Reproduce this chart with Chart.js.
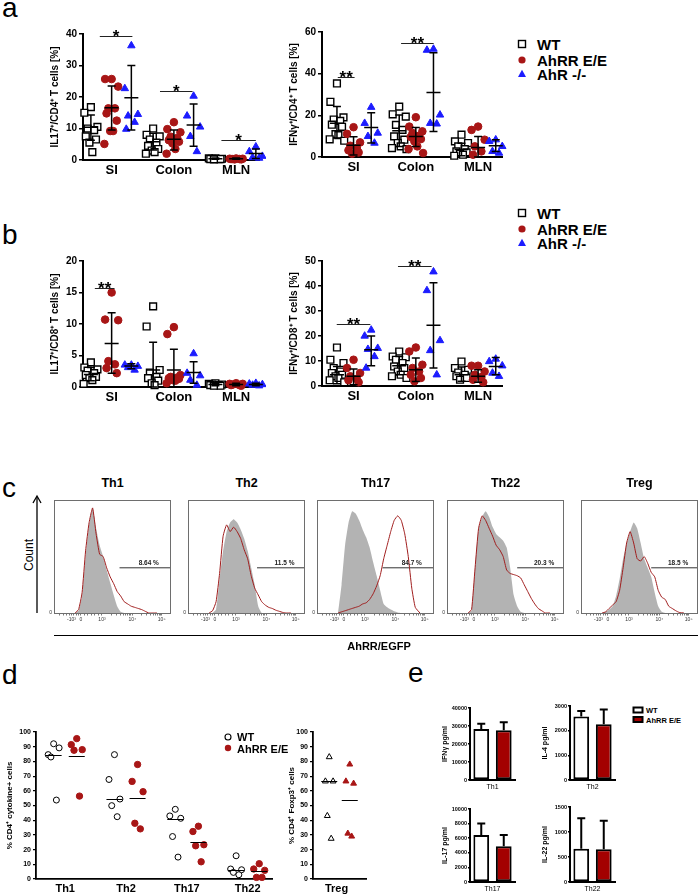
<!DOCTYPE html>
<html>
<head>
<meta charset="utf-8">
<script src="https://cdn.jsdelivr.net/npm/chart.js@4.4.0/dist/chart.umd.min.js"></script>
<style>
body { margin: 0; background: #fff; width: 700px; height: 896px; position: relative; overflow: hidden; font-family: "Liberation Sans", Arial, sans-serif; }
canvas { position: absolute; }
.t { position: absolute; white-space: nowrap; color: #000; line-height: 1; transform: translate(-50%, -50%); }
.l { transform: translate(0, -50%); }
.b { font-weight: bold; }
svg { position: absolute; overflow: visible; }
</style>
</head>
<body>
<script>
// ---- data ----
const organs = ['SI', 'Colon', 'MLN'];
const genotypes = ['WT', 'AhRR E/E', 'AhR -/-'];

// panel a, IL17+/CD4+  [SI, Colon, MLN]
const a1WT   = [[16.8, 15, 10.5, 10, 9.5, 7.5, 6.5, 5.5, 2.5], [10, 8, 7.5, 6.5, 5.5, 4.5, 3.5, 3, 2.5, 2], [0.5, 0.5, 0.4, 0.4, 0.3, 0.3, 0.3, 0.2]];
const a1AhRR = [[25.7, 25.7, 23.3, 16.4, 16.4, 14.8, 12.5, 9.2, 9.2, 5.1], [12, 9.8, 8.8, 7.4, 7, 6.3, 5.8, 5.3, 3.5, 2], [0.5, 0.4, 0.4, 0.3, 0.3, 0.3, 0.2, 0.2]];
const a1AhR  = [[36.3, 22.7, 14.5, 14, 12, 9.8], [20.3, 14, 10.5, 7.5, 2.7], [4.2, 2.7, 1.2, 0.8, 0.6]];
// [mean, low, high] per genotype per organ
const a1Err  = [[[10.4, 6.3, 14.3], [5.8, 3.2, 8.5], [0.4, 0.2, 0.6]], [[16.6, 9.5, 23.5], [6.6, 3.2, 9.5], [0.4, 0.2, 0.6]], [[19.8, 9.5, 30], [11.1, 4.4, 17.8], [2.1, 0.5, 3.5]]];
const a1Sig  = [[-0.57, 1.0, 39.4, '*'], [2.33, 3.9, 22, '*'], [5.29, 6.95, 6.3, '*']];

// panel a, IFNg+/CD4+
const a2WT   = [[35.3, 26.5, 19, 18, 17.3, 15.5, 14.5, 11, 10.5, 8.5, 7.8], [24.2, 20.5, 19.4, 15.4, 13, 9.9, 8.3, 6.7, 5.1, 4.3, 3.8], [10.7, 7.5, 6.7, 5.1, 3.8, 2.7, 2.2, 1.6, 1.1, 0.6]];
const a2AhRR = [[14.3, 11.1, 7, 5.4, 4.3, 3.2, 2.2, 1.6], [19.1, 14.6, 12.3, 11.5, 10.2, 9.6, 8.6, 7.5, 5.1, 3.8, 1.9], [14.6, 13, 8.3, 5.1, 2.7, 1.1]];
const a2AhR  = [[23.9, 16.2, 11.5, 9.9, 6.7], [51.8, 51.3, 20.2, 16.2, 15.9], [8.3, 7.5, 5.1, 2.7, 1.9]];
const a2Err  = [[[16.2, 9.1, 24.2], [12.6, 5.1, 20.2], [3.6, 0.6, 6.6]], [[5.6, 1, 9.7], [9.9, 5.1, 14.2], [4.6, 0, 9.9]], [[14.2, 6.7, 21.3], [31, 12.3, 50], [5.4, 2.7, 8.3]]];
const a2Sig  = [[-0.76, 0.05, 38.5, '**'], [2.29, 3.86, 54.5, '**']];

// panel b, IL17+/CD8+
const b1WT   = [[3.9, 3.1, 2.8, 2.6, 2.2, 1.9, 1.6, 1.4, 1.1, 0.5], [12.8, 9.6, 2.7, 2.3, 1.6, 1.4, 1, 0.6, 0.3], [0.6, 0.5, 0.4, 0.4, 0.3, 0.3, 0.2, 0.2]];
const b1AhRR = [[15, 10.7, 10.6, 4.1, 3.6, 3, 2.2], [9.5, 8.4, 1.9, 1.6, 1.5, 1.4, 1.3, 1.1, 1, 0.6], [0.6, 0.5, 0.5, 0.4, 0.3, 0.3, 0.2]];
const b1AhR  = [[3.5, 3.5, 3.3, 3.1, 2.7], [5.3, 2.2, 1.8, 1.1, 0.3], [0.6, 0.5, 0.4, 0.3, 0.2]];
const b1Err  = [[[2, 1, 3.1], [2.7, 0, 7.1], [0.4, 0.2, 0.6]], [[6.9, 2.2, 11.8], [2.7, 0, 6], [0.4, 0.2, 0.6]], [[3.35, 2.9, 3.7], [2.3, 0.6, 4], [0.4, 0.2, 0.6]]];
const b1Sig  = [[-0.81, 0.14, 15.7, '**']];

// panel b, IFNg+/CD8+
const b2WT   = [[15.4, 10.5, 9.2, 7.2, 5.8, 5.2, 4.5, 3.9, 3.2, 2.3, 1.5], [13.8, 11.8, 11.5, 10.5, 9.2, 7.8, 7.2, 5.8, 4.5, 3.9, 3.2], [9.8, 7.2, 6.5, 5.4, 4.5, 3.9, 3.2, 2.5]];
const b2AhRR = [[10.5, 7.2, 5.2, 3.9, 2.9, 2.3, 1.5], [15.4, 13.8, 8.5, 7.2, 5.8, 4.5, 3.2, 1.9], [8.1, 8.1, 5.8, 4.5, 3.6, 2.5, 1.5]];
const b2AhR  = [[22.4, 20, 15.1, 14.7, 11.8, 7.2], [45.7, 38.2, 18.2, 14.2, 4.5], [10.8, 9.8, 8.1, 5.2, 3.9]];
const b2Err  = [[[4.5, 0.9, 7.8], [8.1, 4.5, 11.8], [4.5, 1.9, 7.6]], [[3.9, 0.5, 6.8], [6.5, 1.8, 11.2], [3.9, 1.5, 6.5]], [[14.5, 8.1, 20], [24.3, 7.2, 41.3], [7.8, 4.5, 11.4]]];
const b2Sig  = [[-0.81, 0.81, 24.8, '**'], [2.14, 3.76, 48.1, '**']];

// panel c, histograms (x in % of axis width, y in % of box height)
const histNames = ['Th1', 'Th2', 'Th17', 'Th22', 'Treg'];
const hx = [18, 21, 24, 27, 30, 33, 36, 39, 42, 45, 48, 51, 54, 57, 60, 63, 66, 69, 72, 75, 78, 81, 84, 88];
const histGray = [
  [0, 2, 15, 50, 78, 93, 75, 60, 50, 38, 27, 16, 6, 1, 0, 0, 0, 0, 0, 0, 0, 0, 0, 0],
  [0, 0, 3, 30, 55, 72, 80, 83, 80, 74, 66, 55, 40, 25, 6, 0, 0, 0, 0, 0, 0, 0, 0, 0],
  [0, 25, 60, 80, 90, 88, 82, 74, 67, 58, 45, 33, 20, 8, 5, 3, 1.5, 0.5, 0, 0, 0, 0, 0, 0],
  [0, 2, 40, 75, 85, 90, 85, 76, 70, 67, 64, 58, 40, 16, 6, 1, 0, 0, 0, 0, 0, 0, 0, 0],
  [0, 1, 3, 6, 15, 30, 48, 62, 72, 80, 75, 62, 48, 40, 32, 18, 6, 1, 0, 0, 0, 0, 0, 0]
];
const histRed = [
  [0, 3, 18, 55, 80, 93, 70, 52, 50, 40, 32, 26, 19, 15, 10, 8, 6, 5, 4, 3, 1.5, 0, 0, 0],
  [0, 2, 10, 35, 68, 78, 72, 76, 72, 66, 56, 48, 33, 22, 16, 10, 7, 5, 4, 2.5, 1.5, 0.5, 0, 0],
  [0, 1, 2, 3, 4, 5, 6, 8, 9, 12, 17, 24, 33, 48, 60, 72, 82, 86, 82, 70, 50, 22, 5, 0],
  [0, 3, 40, 75, 86, 82, 75, 68, 60, 56, 50, 38, 35, 34, 33, 31, 25, 19, 13, 8, 4, 2, 0, 0],
  [0, 1, 4, 7, 10, 20, 40, 62, 72, 62, 48, 46, 50, 44, 36, 32, 20, 14, 12, 6, 4, 2, 0.5, 0]
];
const gateStart = [56, 59, 56, 60, 60];
const gateLevel = 40;
const gateText = ['8.64 %', '11.5 %', '84.7 %', '20.3 %', '18.5 %'];
const histTickPos = [15, 23, 41, 67, 92];
const histTickText = ['-10³', '0', '10³', '10⁴', '10⁵'];

// panel d
const cytos = ['Th1', 'Th2', 'Th17', 'Th22'];
const dWT    = [[92, 84.6, 89.2, 83, 53.7], [84.6, 67.7, 54.4, 49.9, 42.4], [47.4, 42.9, 41.3, 28.9, 14.9], [15.8, 6.8, 6.3, 4.5, 2.9]];
const dAhRR  = [[95.5, 91.4, 88, 87.6, 56.4], [77.9, 66.4, 59.4, 37.9, 34.1], [35.9, 32.3, 23.3, 22.6, 11.7], [10.4, 6.8, 5.9, 1.1, 1.1]];
const dWTline   = [84.6, 54.4, 40.9, 6.3];
const dAhRRline = [83.7, 54.9, 25.5, 5.2];
const tregWT    = [83, 66.5, 66.5, 43, 27.5];
const tregAhRR  = [78, 66.5, 65, 31, 29];
const tregLine  = [66.5, 54];

// panel e
const eCells  = ['Th1', 'Th2', 'Th17', 'Th22'];
const eTitles = ['IFNγ pg/ml', 'IL-4 pg/ml', 'IL-17 pg/ml', 'IL-22 pg/ml'];
const eWT     = [28400, 2570, 6450, 667];
const eAhRR   = [27700, 2260, 4910, 653];
const eWTerr  = [2800, 230, 1550, 606];
const eAhRRerr = [4400, 600, 1545, 574];
const eMax    = [40000, 3000, 10000, 1500];
const eStep   = [10000, 1000, 2000, 500];

// ---- helpers ----
const FONT = '"Liberation Sans", Arial, sans-serif';
const RED = '#a81616';
const BLUE = '#1c1cff';
const HRED = '#a01d1d';
const JIT = [0, -0.9, 0.9, -0.45, 0.45, -0.7, 0.7, -0.2, 0.2, -1, 1];

function place(plot, yW, xH, padT, padR) {
  const c = document.createElement('canvas');
  const w = plot.r - plot.l + yW + padR, h = plot.b - plot.t + padT + xH;
  c.width = w; c.height = h;
  c.style.left = (plot.l - yW) + 'px';
  c.style.top = (plot.t - padT) + 'px';
  c.style.width = w + 'px'; c.style.height = h + 'px';
  document.body.appendChild(c);
  return c;
}

function txt(s, x, y, size, cls, extra) {
  const d = document.createElement('div');
  d.className = 't ' + (cls || '');
  d.textContent = s;
  d.style.left = x + 'px'; d.style.top = y + 'px';
  d.style.fontSize = size + 'px';
  if (extra) Object.assign(d.style, extra);
  document.body.appendChild(d);
  return d;
}

function svg(x, y, w, h, inner) {
  const d = document.createElement('div');
  d.innerHTML = '<svg width="' + w + '" height="' + h + '" style="left:' + x + 'px;top:' + y + 'px">' + inner + '</svg>';
  document.body.appendChild(d);
}

const noLegend = {legend: {display: false}, tooltip: {enabled: false}};

// scatter panels a and b
function dotPanel(plot, xr, yMax, yStep, yTitle, sub, sets, errs, sigs) {
  const yW = 34, xH = 22, padT = 16, padR = 4;
  const cv = place(plot, yW, xH, padT, padR);
  const look = [
    {pointStyle: 'rect', pointRadius: 4.8, backgroundColor: '#fff', borderColor: '#000', borderWidth: 1.4},
    {pointStyle: 'circle', pointRadius: 3.8, backgroundColor: RED, borderColor: RED, borderWidth: 1},
    {pointStyle: 'triangle', pointRadius: 4.3, backgroundColor: BLUE, borderColor: BLUE, borderWidth: 1}
  ];
  const datasets = sets.map((cats, g) => Object.assign({
    label: genotypes[g], clip: false,
    data: cats.flatMap((vals, c) => vals.map((v, i) => ({x: c * 3 + sub[g] + JIT[i % JIT.length] * 0.35, y: v})))
  }, look[g])).reverse();

  const overlay = {
    id: 'overlay',
    afterDatasetsDraw(chart) {
      const {ctx, scales: {x, y}} = chart;
      ctx.save();
      ctx.strokeStyle = '#000';
      ctx.lineWidth = 1.5;
      errs.forEach((cats, g) => cats.forEach(([m, lo, hi], c) => {
        const cx = x.getPixelForValue(c * 3 + sub[g]);
        const ym = y.getPixelForValue(m), yl = y.getPixelForValue(lo), yh = y.getPixelForValue(hi);
        ctx.beginPath();
        ctx.moveTo(cx, yl); ctx.lineTo(cx, yh);
        ctx.moveTo(cx - 7, ym); ctx.lineTo(cx + 7, ym);
        ctx.moveTo(cx - 4, yl); ctx.lineTo(cx + 4, yl);
        ctx.moveTo(cx - 4, yh); ctx.lineTo(cx + 4, yh);
        ctx.stroke();
      }));
      ctx.lineWidth = 1;
      ctx.strokeStyle = '#222';
      ctx.fillStyle = '#000';
      ctx.font = 'bold 17px ' + FONT;
      ctx.textAlign = 'center';
      ctx.textBaseline = 'alphabetic';
      sigs.forEach(([x0, x1, v, label]) => {
        const py = Math.round(y.getPixelForValue(v)) + 0.5;
        const px0 = x.getPixelForValue(x0), px1 = x.getPixelForValue(x1);
        ctx.beginPath();
        ctx.moveTo(px0, py); ctx.lineTo(px1, py);
        ctx.stroke();
        ctx.fillText(label, (px0 + px1) / 2, py + 5);
      });
      ctx.restore();
    }
  };

  new Chart(cv, {
    type: 'scatter',
    data: {datasets},
    options: {
      responsive: false, animation: false,
      layout: {padding: {top: padT, right: padR, left: 0, bottom: 0}},
      plugins: noLegend,
      scales: {
        x: {
          type: 'linear', min: xr[0], max: xr[1],
          afterBuildTicks: s => { s.ticks = organs.map((_, i) => ({value: i * 3})); },
          afterFit: s => { s.height = xH; },
          ticks: {callback: (v, i) => organs[i], font: {size: 13, weight: 'bold', family: FONT}, color: '#000', padding: 3, maxRotation: 0, autoSkip: false},
          grid: {display: false, drawTicks: false},
          border: {display: true, color: '#000', width: 2}
        },
        y: {
          min: 0, max: yMax,
          afterFit: s => { s.width = yW; },
          ticks: {stepSize: yStep, font: {size: 10, weight: 'bold', family: FONT}, color: '#000', padding: 2},
          grid: {drawOnChartArea: false, color: '#000', lineWidth: 1.5, tickLength: 4},
          border: {display: true, color: '#000', width: 2},
          title: {display: true, text: yTitle, font: {size: 10, weight: 'bold', family: FONT}, color: '#000', padding: 0}
        }
      }
    },
    plugins: [overlay]
  });
}

const subL = [-1, 0, 0.95];
const subR = [-0.8, 0, 0.85];
dotPanel({l: 83, t: 34, r: 262, b: 160}, [-1.38, 7.14], 40, 10, 'IL17⁺/CD4⁺ T cells [%]', subL, [a1WT, a1AhRR, a1AhR], a1Err, a1Sig);
dotPanel({l: 322, t: 32, r: 505, b: 157}, [-1.52, 7.19], 60, 20, 'IFNγ⁺/CD4⁺ T cells [%]', subR, [a2WT, a2AhRR, a2AhR], a2Err, a2Sig);
dotPanel({l: 83, t: 261, r: 262, b: 387}, [-1.38, 7.14], 20, 5, 'IL17⁺/CD8⁺ T cells [%]', subL, [b1WT, b1AhRR, b1AhR], b1Err, b1Sig);
dotPanel({l: 322, t: 261, r: 505, b: 386}, [-1.52, 7.19], 50, 10, 'IFNγ⁺/CD8⁺ T cells [%]', subR, [b2WT, b2AhRR, b2AhR], b2Err, b2Sig);

// legends a, b
[44, 213].forEach(y0 => {
  const ys = [y0, y0 + 16, y0 + 30];
  svg(517, ys[0] - 5, 10, 10, '<rect x="1.5" y="1.5" width="7" height="7" fill="#fff" stroke="#000" stroke-width="1.4"/>');
  svg(517, ys[1] - 5, 10, 10, '<circle cx="5" cy="5" r="3.6" fill="' + RED + '"/>');
  svg(517, ys[2] - 5, 10, 10, '<polygon points="5,0.8 9,8 1,8" fill="' + BLUE + '"/>');
  genotypes.forEach((g, i) => txt(g, 537, ys[i], 15, 'b l'));
});

// panel c histograms
const histLeft = [54, 188, 317, 447, 581];
const histMinor = [5, 8, 11, 13, 17, 19, 21, 26, 29, 32, 35, 38, 48.8, 53.4, 56.7, 59.2, 61.2, 63, 64.5, 65.8, 74.5, 79, 82.2, 84.7, 86.7, 88.4, 89.9, 91.2];

function histPanel(k) {
  const l = histLeft[k];
  const plot = {l, t: 497, r: l + 117, b: 613};
  const cv = place(plot, 9, 12, 2, 4);
  const frame = {
    id: 'frame',
    afterDatasetsDraw(chart) {
      const {ctx, chartArea: a, scales: {x, y}} = chart;
      ctx.save();
      ctx.strokeStyle = '#6e6e6e';
      ctx.lineWidth = 1;
      ctx.strokeRect(a.left + 0.5, a.top + 0.5, a.right - a.left - 1, a.bottom - a.top);
      ctx.fillStyle = '#222';
      ctx.font = 'bold 6.5px ' + FONT;
      ctx.textAlign = 'center';
      ctx.fillText(gateText[k], x.getPixelForValue((gateStart[k] + 100) / 2 + 3), y.getPixelForValue(gateLevel) - 3);
      ctx.restore();
    }
  };
  const allTicks = histTickPos.concat(histMinor).sort((p, q) => p - q);
  new Chart(cv, {
    type: 'line',
    data: {datasets: [
      {data: hx.map((x, i) => ({x, y: histRed[k][i]})), borderColor: HRED, borderWidth: 1, pointRadius: 0, tension: 0.15, fill: false},
      {data: [{x: gateStart[k], y: gateLevel}, {x: 100, y: gateLevel}], borderColor: '#333', borderWidth: 1, pointRadius: 0, fill: false},
      {data: hx.map((x, i) => ({x, y: histGray[k][i]})), borderWidth: 0, borderColor: '#b3b3b3', backgroundColor: '#b3b3b3', pointRadius: 0, tension: 0.15, fill: 'origin'}
    ]},
    options: {
      responsive: false, animation: false,
      layout: {padding: {top: 2, right: 4, left: 0, bottom: 0}},
      plugins: noLegend,
      scales: {
        x: {
          type: 'linear', min: 0, max: 100,
          afterBuildTicks: s => { s.ticks = allTicks.map(v => ({value: v})); },
          afterFit: s => { s.height = 12; },
          ticks: {callback: v => { const j = histTickPos.indexOf(v); return j < 0 ? '' : histTickText[j]; },
                  font: {size: 5, family: FONT}, color: '#333', padding: 1, maxRotation: 0, autoSkip: false},
          grid: {drawOnChartArea: false, color: '#444', lineWidth: 0.7, tickLength: 2.5},
          border: {display: false}
        },
        y: {
          min: 0, max: 100,
          afterBuildTicks: s => { s.ticks = [{value: 0}]; },
          afterFit: s => { s.width = 9; },
          ticks: {font: {size: 5, family: FONT}, color: '#333', padding: 2},
          grid: {display: false, drawTicks: false},
          border: {display: false}
        }
      }
    },
    plugins: [frame]
  });
  txt(histNames[k], l + 58.5, 483, 12.5, 'b');
}
histNames.forEach((_, k) => histPanel(k));

txt('Count', 29, 555, 12, '', {transform: 'translate(-50%,-50%) rotate(-90deg)'});
svg(30, 490, 16, 130, '<line x1="7" y1="123" x2="7" y2="7" stroke="#000" stroke-width="1.3"/><polyline points="3,13 7,6 11,13" fill="none" stroke="#000" stroke-width="1.3"/>');
svg(50, 630, 660, 10, '<line x1="4" y1="5.5" x2="648" y2="5.5" stroke="#000" stroke-width="1.2"/>');
txt('AhRR/EGFP', 379, 646, 11, 'b');

// panel d
function medianOverlay(xs, lines) {
  return {
    id: 'medians',
    afterDatasetsDraw(chart) {
      const {ctx, scales: {x, y}} = chart;
      ctx.save();
      ctx.strokeStyle = '#000';
      ctx.lineWidth = 1;
      lines.forEach((v, i) => {
        const px = x.getPixelForValue(xs[i]), py = Math.round(y.getPixelForValue(v)) + 0.5;
        ctx.beginPath(); ctx.moveTo(px - 8, py); ctx.lineTo(px + 8, py); ctx.stroke();
      });
      ctx.restore();
    }
  };
}

function dScales(xr, labelsAt, labels, yW, title) {
  return {
    x: {
      type: 'linear', min: xr[0], max: xr[1],
      afterBuildTicks: s => { s.ticks = labelsAt.map(v => ({value: v})); },
      afterFit: s => { s.height = 17; },
      ticks: {callback: (v, i) => labels[i], font: {size: 11, weight: 'bold', family: FONT}, color: '#000', padding: 3, maxRotation: 0, autoSkip: false},
      grid: {display: false, drawTicks: false},
      border: {display: true, color: '#000', width: 1.8}
    },
    y: {
      min: 0, max: 100,
      afterFit: s => { s.width = yW; },
      ticks: {stepSize: 10, font: {size: 7, weight: 'bold', family: FONT}, color: '#000', padding: 2},
      grid: {drawOnChartArea: false, color: '#000', lineWidth: 1.2, tickLength: 3},
      border: {display: true, color: '#000', width: 1.8},
      title: {display: true, text: title, font: {size: 8, weight: 'bold', family: FONT}, color: '#000', padding: 0}
    }
  };
}

(function () {
  const plot = {l: 36, t: 732, r: 273, b: 879};
  const cv = place(plot, 31, 17, 8, 4);
  const off = 0.19;
  const wtPts = dWT.flatMap((vals, c) => vals.map((v, i) => ({x: c - off + JIT[i] * 0.1, y: v})));
  const ahPts = dAhRR.flatMap((vals, c) => vals.map((v, i) => ({x: c + off + JIT[i] * 0.1, y: v})));
  const xs = cytos.flatMap((_, c) => [c - off, c + off]);
  const lines = cytos.flatMap((_, c) => [dWTline[c], dAhRRline[c]]);
  new Chart(cv, {
    type: 'scatter',
    data: {datasets: [
      {data: wtPts, pointStyle: 'circle', pointRadius: 3, backgroundColor: '#fff', borderColor: '#000', borderWidth: 1, clip: false},
      {data: ahPts, pointStyle: 'circle', pointRadius: 3.2, backgroundColor: RED, borderColor: RED, borderWidth: 1, clip: false}
    ]},
    options: {
      responsive: false, animation: false,
      layout: {padding: {top: 8, right: 4, left: 0, bottom: 0}},
      plugins: noLegend,
      scales: dScales([-0.48, 3.4], [0, 1, 2, 3], cytos, 31, '% CD4⁺ cytokine+ cells')
    },
    plugins: [medianOverlay(xs, lines)]
  });

  const plot2 = {l: 313, t: 732, r: 367, b: 879};
  const cv2 = place(plot2, 26, 17, 8, 4);
  new Chart(cv2, {
    type: 'scatter',
    data: {datasets: [
      {data: tregWT.map((v, i) => ({x: -0.24 + JIT[i] * 0.1, y: v})), pointStyle: 'triangle', pointRadius: 3.4, backgroundColor: '#fff', borderColor: '#000', borderWidth: 1, clip: false},
      {data: tregAhRR.map((v, i) => ({x: 0.24 + JIT[i] * 0.1, y: v})), pointStyle: 'triangle', pointRadius: 3.4, backgroundColor: RED, borderColor: RED, borderWidth: 1, clip: false}
    ]},
    options: {
      responsive: false, animation: false,
      layout: {padding: {top: 8, right: 4, left: 0, bottom: 0}},
      plugins: noLegend,
      scales: dScales([-0.62, 0.62], [-0.07], ['Treg'], 26, '% CD4⁺ Foxp3⁺ cells')
    },
    plugins: [medianOverlay([-0.24, 0.24], tregLine)]
  });

  svg(223, 732, 10, 10, '<circle cx="5" cy="5" r="3" fill="#fff" stroke="#000" stroke-width="1.1"/>');
  svg(223, 743, 10, 10, '<circle cx="5" cy="5" r="3.2" fill="' + RED + '"/>');
  txt('WT', 237, 737, 11, 'b l');
  txt('AhRR E/E', 237, 748.5, 11, 'b l');
})();

// panel e
const errUp = (i) => ({
  id: 'errUp',
  afterDatasetsDraw(chart) {
    const {ctx, scales: {x, y}} = chart;
    const vals = [eWT[i], eAhRR[i]], errs = [eWTerr[i], eAhRRerr[i]];
    ctx.save();
    ctx.strokeStyle = '#000';
    ctx.lineWidth = 2;
    vals.forEach((v, j) => {
      const px = x.getPixelForValue(j), y0 = y.getPixelForValue(v), y1 = y.getPixelForValue(v + errs[j]);
      ctx.beginPath();
      ctx.moveTo(px, y0); ctx.lineTo(px, y1);
      ctx.moveTo(px - 4, y1); ctx.lineTo(px + 4, y1);
      ctx.stroke();
    });
    ctx.restore();
  }
});

function barPanel(i, plot) {
  const cv = place(plot, 29, 11, 6, 4);
  new Chart(cv, {
    type: 'bar',
    data: {labels: ['WT', 'AhRR E/E'], datasets: [{
      data: [eWT[i], eAhRR[i]], backgroundColor: ['#fff', '#a30000'], borderColor: '#000',
      borderWidth: 2, borderSkipped: false, barPercentage: 0.7, categoryPercentage: 1
    }]},
    options: {
      responsive: false, animation: false,
      layout: {padding: {top: 6, right: 4, left: 0, bottom: 0}},
      plugins: noLegend,
      scales: {
        x: {
          ticks: {display: false}, grid: {display: false, drawTicks: false},
          border: {display: true, color: '#000', width: 2},
          title: {display: true, text: eCells[i], font: {size: 7, family: FONT}, color: '#000', padding: {top: 1, bottom: 0}},
          afterFit: s => { s.height = 11; }
        },
        y: {
          min: 0, max: eMax[i],
          afterFit: s => { s.width = 29; },
          ticks: {stepSize: eStep[i], callback: v => String(v), font: {size: 5.5, weight: 'bold', family: FONT}, color: '#000', padding: 1},
          grid: {drawOnChartArea: false, color: '#000', lineWidth: 1.5, tickLength: 2},
          border: {display: true, color: '#000', width: 2},
          title: {display: true, text: eTitles[i], font: {size: 7, weight: 'bold', family: FONT}, color: '#000', padding: 0}
        }
      }
    },
    plugins: [errUp(i)]
  });
}
barPanel(0, {l: 470, t: 708, r: 515, b: 780});
barPanel(1, {l: 570, t: 706, r: 615, b: 780});
barPanel(2, {l: 470, t: 809, r: 515, b: 882});
barPanel(3, {l: 570, t: 807, r: 615, b: 882});

svg(632, 706, 14, 20, '<rect x="1.5" y="1.5" width="9" height="5" fill="#fff" stroke="#000" stroke-width="2"/><rect x="1.5" y="11" width="9" height="5" fill="#a30000" stroke="#000" stroke-width="2"/>');
txt('WT', 646, 711, 7.5, 'b l');
txt('AhRR E/E', 646, 720.5, 7.5, 'b l');

// panel letters
[['a', 2, 18], ['b', 2, 245], ['c', 2, 498], ['d', 2, 685], ['e', 408, 683]].forEach(([s, x, base]) => {
  txt(s, x, base - 23.7, 28, '', {transform: 'none'});
});
</script>
</body>
</html>
